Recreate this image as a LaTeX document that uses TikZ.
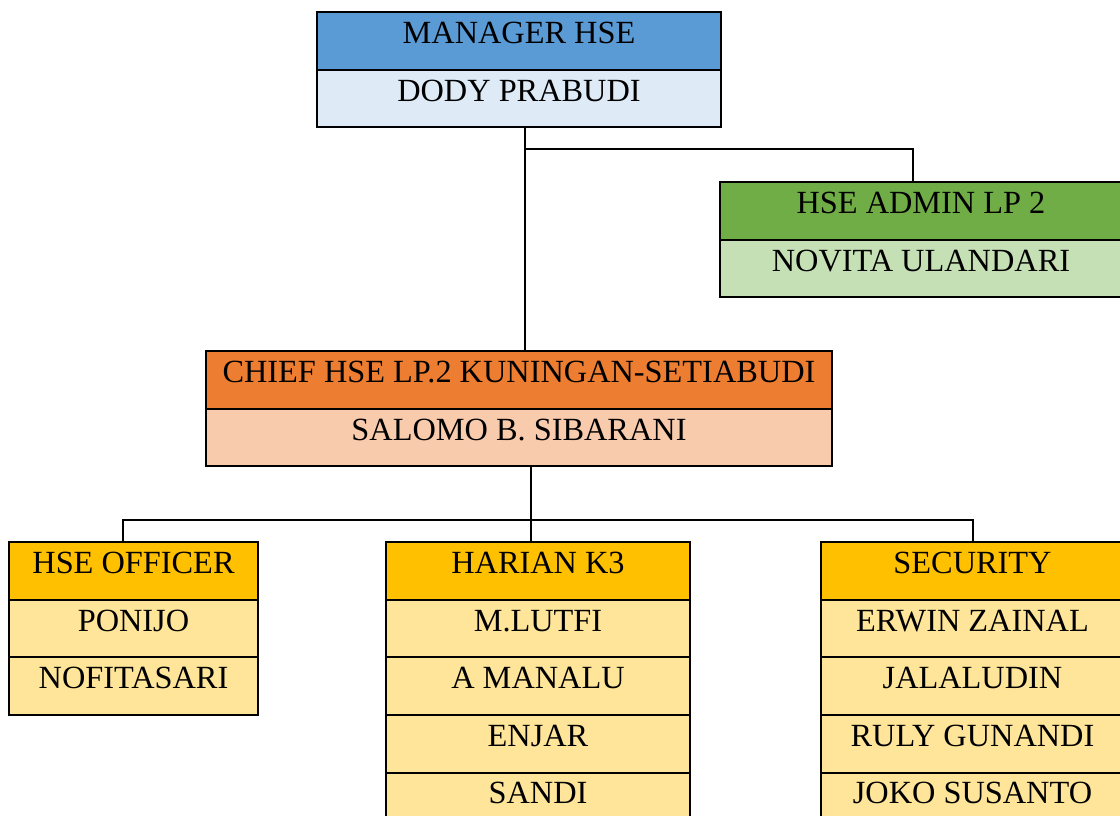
\documentclass[tikz,border=0pt]{standalone}
\usepackage{fontspec}
\setmainfont{Liberation Serif}
\usetikzlibrary{positioning,calc}
\definecolor{mgrhead}{HTML}{5B9BD5}
\definecolor{mgrbody}{HTML}{DEEBF7}
\definecolor{admhead}{HTML}{70AD47}
\definecolor{admbody}{HTML}{C5E0B4}
\definecolor{chfhead}{HTML}{ED7D31}
\definecolor{chfbody}{HTML}{F8CBAD}
\definecolor{teamhead}{HTML}{FFC000}
\definecolor{teambody}{HTML}{FFE599}
\tikzset{
  cell/.style  = {draw, line width=0.7pt, rectangle, inner sep=0pt,
                  minimum height=1.415cm, text height=0.56cm, text depth=0.44cm,
                  font=\fontsize{23}{27}\selectfont},
  frame/.style = {draw, line width=1.4pt},
  link/.style  = {line width=1.4pt},
}
\begin{document}
\begin{tikzpicture}[x=0.025cm, y=-0.025cm, node distance=0pt]
\useasboundingbox (0,0) rectangle (1120,816);
% ---------- manager ----------
\node[cell, fill=mgrhead, minimum width=10.05cm] (mgr1) at (519,41) {MANAGER HSE};
\node[cell, fill=mgrbody, minimum width=10.05cm, below=of mgr1] (mgr2) {DODY PRABUDI};
\draw[frame] (mgr1.north west) rectangle (mgr2.south east);
% ---------- admin ----------
\node[cell, fill=admhead, minimum width=10cm] (adm1) at (921,211) {HSE ADMIN LP 2};
\node[cell, fill=admbody, minimum width=10cm, below=of adm1] (adm2) {NOVITA ULANDARI};
\draw[frame] (adm1.north west) rectangle (adm2.south east);
% ---------- chief ----------
\node[cell, fill=chfhead, minimum width=15.6cm] (chf1) at (519,380) {CHIEF HSE LP.2 KUNINGAN-SETIABUDI};
\node[cell, fill=chfbody, minimum width=15.6cm, below=of chf1] (chf2) {SALOMO B. SIBARANI};
\draw[frame] (chf1.north west) rectangle (chf2.south east);
% ---------- teams ----------
\node[cell, fill=teamhead, minimum width=6.175cm] (off0) at (133.5,571) {HSE OFFICER};
\foreach \nm [count=\i, evaluate=\i as \j using int(\i-1)] in {PONIJO,NOFITASARI}
  \node[cell, fill=teambody, minimum width=6.175cm, below=of off\j] (off\i) {\nm};
\draw[frame] (off0.north west) rectangle (off2.south east);

\node[cell, fill=teamhead, minimum width=7.55cm] (kkk0) at (538,571) {HARIAN K3};
\foreach \nm [count=\i, evaluate=\i as \j using int(\i-1)] in {M.LUTFI,A MANALU,ENJAR,SANDI}
  \node[cell, fill=teambody, minimum width=7.55cm, below=of kkk\j] (kkk\i) {\nm};
\draw[frame] (kkk0.north west) rectangle (kkk4.south east);

\node[cell, fill=teamhead, minimum width=7.55cm] (sec0) at (972.5,571) {SECURITY};
\foreach \nm [count=\i, evaluate=\i as \j using int(\i-1)] in {ERWIN ZAINAL,JALALUDIN,RULY GUNANDI,JOKO SUSANTO}
  \node[cell, fill=teambody, minimum width=7.55cm, below=of sec\j] (sec\i) {\nm};
\draw[frame] (sec0.north west) rectangle (sec4.south east);
% ---------- connectors ----------
\coordinate (topjoin) at (525,149);
\coordinate (admdrop) at (913,149);
\draw[link] (mgr2.south -| topjoin) -- (chf1.north -| topjoin);
\draw[link] (topjoin) -- (admdrop) -- (admdrop |- adm1.north);
\coordinate (busmid) at (531,520);
\coordinate (busleft) at (123,520);
\coordinate (busright) at (973,520);
\draw[link] (chf2.south -| busmid) -- (kkk0.north -| busmid);
\draw[link] (busleft |- off0.north) -- (busleft) -- (busright) -- (busright |- sec0.north);
\end{tikzpicture}
\end{document}
